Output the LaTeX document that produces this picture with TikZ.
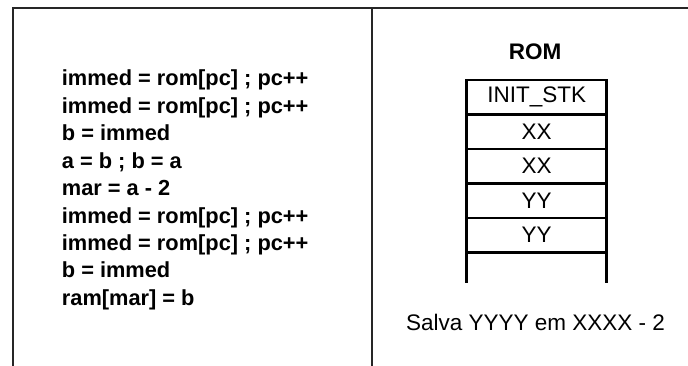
\documentclass[tikz,border=0pt]{standalone}
\usepackage{fontspec}
\setmainfont{Liberation Sans}
\begin{document}
\begin{tikzpicture}[x=1pt,y=-1pt,
  frame/.style={line width=1.6pt,black!85},
  code/.style={anchor=base west,inner sep=0pt,font=\fontsize{21.8}{27.4}\selectfont\bfseries},
  cell/.style={draw,line width=2.6pt,minimum width=140pt,minimum height=34.46pt,inner sep=0pt,outer sep=0pt,anchor=center,font=\fontsize{22.5}{26}\selectfont},
  lbl/.style={anchor=base,inner sep=0pt,font=\fontsize{22.5}{26}\selectfont}]
\useasboundingbox (0,0) rectangle (688,366);
% frame
\coordinate (tl) at (13,8);
\coordinate (tr) at (688,8);
\coordinate (bl) at (13,366);
\coordinate (dt) at (372,8);
\coordinate (db) at (372,366);
\draw[frame] (bl) -- (tl) -- (tr);
\draw[frame] (dt) -- (db);
% code
\node[code] (c1) at (61.7,86) {immed = rom[pc] ; pc++};
\node[code] (c2) at (61.7,113.4) {immed = rom[pc] ; pc++};
\node[code] (c3) at (61.7,140.8) {b = immed};
\node[code] (c4) at (61.7,168.2) {a = b ; b = a};
\node[code] (c5) at (61.7,195.6) {mar = a - 2};
\node[code] (c6) at (61.7,223.0) {immed = rom[pc] ; pc++};
\node[code] (c7) at (61.7,250.4) {immed = rom[pc] ; pc++};
\node[code] (c8) at (61.7,277.8) {b = immed};
\node[code] (c9) at (61.7,305.2) {ram[mar] = b};
% ROM stack
\node[lbl,font=\fontsize{22.5}{26}\selectfont\bfseries] (rom) at (535,60) {ROM};
\node[cell] (s1) at (536.7,97.23) {INIT\_STK};
\node[cell] (s2) at ([yshift=-34.46pt]s1.center) {XX};
\node[cell] (s3) at ([yshift=-34.46pt]s2.center) {XX};
\node[cell] (s4) at ([yshift=-34.46pt]s3.center) {YY};
\node[cell] (s5) at ([yshift=-34.46pt]s4.center) {YY};
\coordinate (e1) at ([yshift=-30.4pt]s5.south west);
\coordinate (e2) at ([yshift=-30.4pt]s5.south east);
\draw[line width=2.6pt] (s5.south west) -- (e1);
\draw[line width=2.6pt] (s5.south east) -- (e2);
\node[lbl] (salva) at (535.5,330) {Salva YYYY em XXXX - 2};
\end{tikzpicture}
\end{document}
